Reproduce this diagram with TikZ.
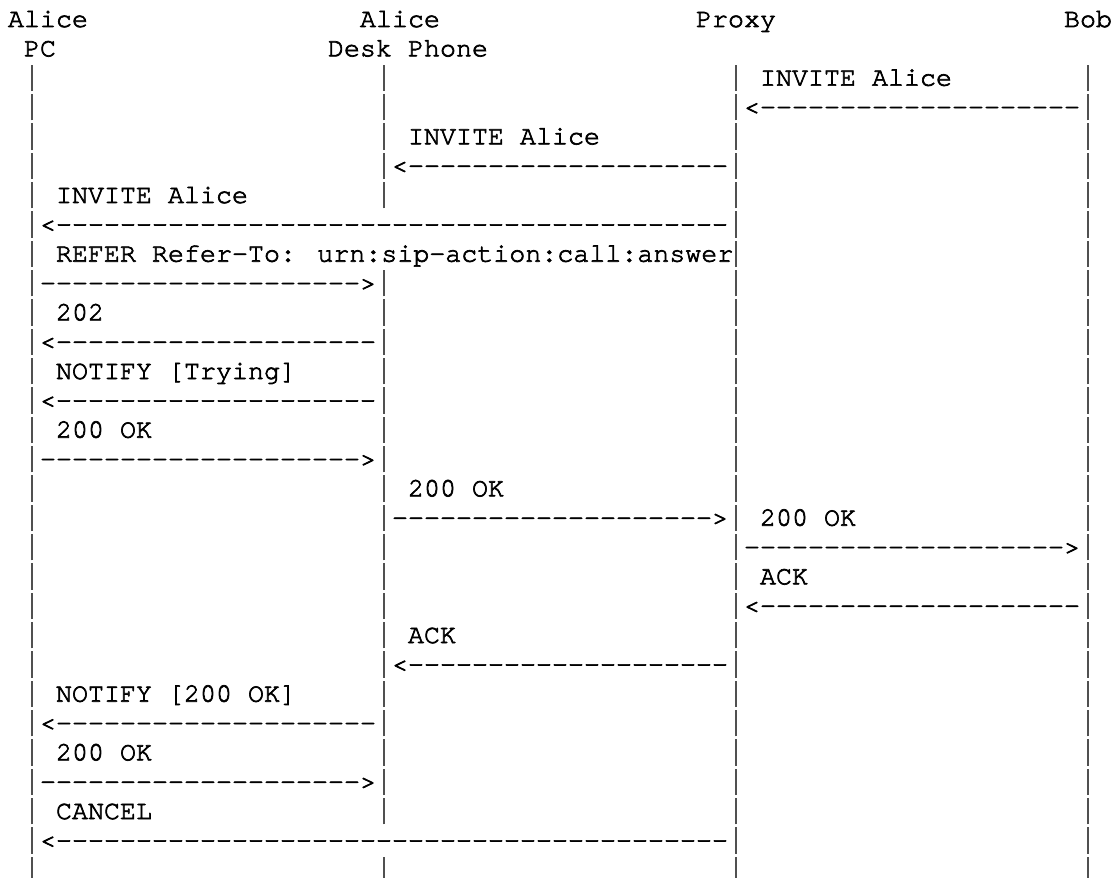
\documentclass[tikz,border=0pt]{standalone}
\usepackage{fontspec}
\newfontfamily\asciifont{TeX Gyre Cursor}[FakeBold=2.5]
\definecolor{barcol}{HTML}{505050}
\newcommand\dashestw{--------------------}
\newcommand\dashesfw{------------------------------------------}
\tikzset{
  ascii/.style={anchor=base west, inner sep=0pt, outer sep=0pt, text=black,
    font=\asciifont\fontsize{20pt}{22pt}\selectfont},
  bar/.style={anchor=base west, inner sep=0pt, outer sep=0pt, text=barcol},
}
% \asc{name}{column}{row}{text}
\newcommand\asc[4]{\node[ascii] (#1) at ({6+12*#2},{-20.25-22*#3}) {#4};}
% \lifebar{name}{column}{row}
\newcommand\lifebar[3]{\node[bar] (#1) at ({6+12*#2},{-20.25-22*#3}) {\makebox[12pt]{\rule[-4.1pt]{1.4pt}{19.8pt}}};}
\begin{document}
\begin{tikzpicture}[x=1pt,y=1pt]
\useasboundingbox (0,0) rectangle (839.25,-657.75);
% header
\asc{hpc1}{0}{0}{Alice}
\asc{hdp1}{22}{0}{Alice}
\asc{hpx}{43}{0}{Proxy}
\asc{hbob}{66}{0}{Bob}
\asc{hpc2}{1}{1}{PC}
\asc{hdp2}{20}{1}{Desk Phone}
% lifelines
\foreach \r in {2,...,29}{
  \foreach \c in {1,23,45,67}{
    \pgfmathtruncatemacro\skp{(\c==23)&&((\r==7)||(\r==8)||(\r==28))}
    \ifnum\skp=0
      \lifebar{p-\r-\c}{\c}{\r}
    \fi
  }
}
% messages
\asc{m2}{47}{2}{INVITE Alice}
\asc{a3}{46}{3}{<\dashestw}
\asc{m4}{25}{4}{INVITE Alice}
\asc{a5}{24}{5}{<\dashestw}
\asc{m6}{3}{6}{INVITE Alice}
\asc{a7}{2}{7}{<\dashesfw}
\asc{m8}{3}{8}{REFER Refer-To: urn:sip-action:call:answer}
\asc{a9}{2}{9}{\dashestw>}
\asc{m10}{3}{10}{202}
\asc{a11}{2}{11}{<\dashestw}
\asc{m12}{3}{12}{NOTIFY [Trying]}
\asc{a13}{2}{13}{<\dashestw}
\asc{m14}{3}{14}{200 OK}
\asc{a15}{2}{15}{\dashestw>}
\asc{m16}{25}{16}{200 OK}
\asc{a17}{24}{17}{\dashestw>}
\asc{m17}{47}{17}{200 OK}
\asc{a18}{46}{18}{\dashestw>}
\asc{m19}{47}{19}{ACK}
\asc{a20}{46}{20}{<\dashestw}
\asc{m21}{25}{21}{ACK}
\asc{a22}{24}{22}{<\dashestw}
\asc{m23}{3}{23}{NOTIFY [200 OK]}
\asc{a24}{2}{24}{<\dashestw}
\asc{m25}{3}{25}{200 OK}
\asc{a26}{2}{26}{\dashestw>}
\asc{m27}{3}{27}{CANCEL}
\asc{a28}{2}{28}{<\dashesfw}
\end{tikzpicture}
\end{document}
